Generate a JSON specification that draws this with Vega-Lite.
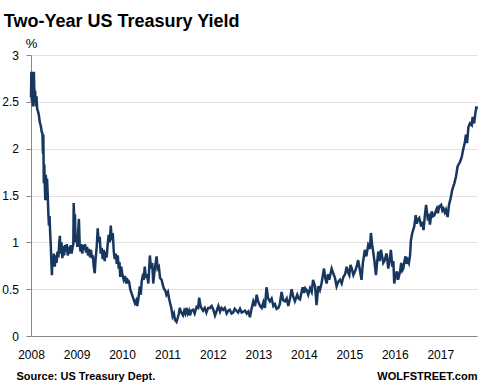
{
 "$schema": "https://vega.github.io/schema/vega-lite/v6.json",
 "width": 446,
 "height": 281,
 "autosize": {"type": "none"},
 "padding": {"left": 31, "top": 55, "right": 6, "bottom": 55},
 "background": "white",
 "title": {"text": "Two-Year US Treasury Yield", "anchor": "start", "frame": "bounds", "fontSize": 18, "fontWeight": "bold", "color": "#000000", "baseline": "alphabetic", "offset": -8, "dx": 2},
 "config": {"view": {"stroke": null}, "font": "Liberation Sans"},
 "data": {"values": [
  {"date":"2008-01-01","yield":2.55},{"date":"2008-01-04","yield":2.82},{"date":"2008-01-08","yield":2.5},{"date":"2008-01-12","yield":2.68},{"date":"2008-01-16","yield":2.45},{"date":"2008-01-20","yield":2.62},{"date":"2008-01-24","yield":2.82},{"date":"2008-01-29","yield":2.55},
  {"date":"2008-02-03","yield":2.62},{"date":"2008-02-08","yield":2.45},{"date":"2008-02-14","yield":2.56},{"date":"2008-02-20","yield":2.42},{"date":"2008-02-26","yield":2.4},
  {"date":"2008-03-04","yield":2.36},{"date":"2008-03-12","yield":2.28},{"date":"2008-03-20","yield":2.24},{"date":"2008-03-27","yield":2.18},
  {"date":"2008-04-02","yield":2.16},{"date":"2008-04-06","yield":1.95},{"date":"2008-04-09","yield":2.15},{"date":"2008-04-13","yield":1.63},{"date":"2008-04-17","yield":1.83},{"date":"2008-04-21","yield":1.6},{"date":"2008-04-25","yield":1.45},{"date":"2008-04-29","yield":1.72},
  {"date":"2008-05-04","yield":1.55},{"date":"2008-05-09","yield":1.68},{"date":"2008-05-14","yield":1.52},{"date":"2008-05-19","yield":1.32},{"date":"2008-05-24","yield":1.18},{"date":"2008-05-29","yield":1.28},
  {"date":"2008-06-03","yield":1.1},{"date":"2008-06-08","yield":0.97},{"date":"2008-06-13","yield":0.78},{"date":"2008-06-17","yield":0.65},{"date":"2008-06-22","yield":0.85},{"date":"2008-06-27","yield":0.76},
  {"date":"2008-07-03","yield":0.88},{"date":"2008-07-10","yield":0.74},{"date":"2008-07-17","yield":0.86},{"date":"2008-07-24","yield":0.78},
  {"date":"2008-08-01","yield":0.9},{"date":"2008-08-08","yield":0.84},{"date":"2008-08-15","yield":1.0},{"date":"2008-08-20","yield":1.07},{"date":"2008-08-26","yield":0.88},
  {"date":"2008-09-02","yield":1.0},{"date":"2008-09-09","yield":0.83},{"date":"2008-09-16","yield":0.96},{"date":"2008-09-23","yield":0.86},
  {"date":"2008-10-01","yield":0.97},{"date":"2008-10-08","yield":0.9},{"date":"2008-10-15","yield":0.98},{"date":"2008-10-22","yield":0.86},
  {"date":"2008-11-01","yield":0.95},{"date":"2008-11-08","yield":0.88},{"date":"2008-11-15","yield":0.97},{"date":"2008-11-22","yield":0.88},
  {"date":"2008-12-01","yield":0.95},{"date":"2008-12-06","yield":0.98},{"date":"2008-12-09","yield":1.42},{"date":"2008-12-14","yield":1.22},{"date":"2008-12-19","yield":1.3},{"date":"2008-12-24","yield":1.0},
  {"date":"2009-01-01","yield":1.08},{"date":"2009-01-07","yield":0.95},{"date":"2009-01-14","yield":1.12},{"date":"2009-01-20","yield":1.25},{"date":"2009-01-26","yield":0.98},
  {"date":"2009-02-02","yield":0.9},{"date":"2009-02-09","yield":0.98},{"date":"2009-02-16","yield":0.88},{"date":"2009-02-23","yield":0.97},
  {"date":"2009-03-02","yield":0.92},{"date":"2009-03-10","yield":0.98},{"date":"2009-03-18","yield":0.89},{"date":"2009-03-26","yield":0.95},
  {"date":"2009-04-03","yield":0.86},{"date":"2009-04-11","yield":0.93},{"date":"2009-04-19","yield":0.84},{"date":"2009-04-27","yield":0.92},
  {"date":"2009-05-05","yield":0.83},{"date":"2009-05-12","yield":0.86},{"date":"2009-05-19","yield":0.74},{"date":"2009-05-27","yield":0.67},
  {"date":"2009-06-03","yield":0.82},{"date":"2009-06-12","yield":0.95},{"date":"2009-06-20","yield":1.15},{"date":"2009-06-28","yield":1.0},
  {"date":"2009-07-06","yield":1.06},{"date":"2009-07-14","yield":0.88},{"date":"2009-07-22","yield":0.94},{"date":"2009-07-30","yield":0.82},
  {"date":"2009-08-07","yield":0.92},{"date":"2009-08-15","yield":0.8},{"date":"2009-08-23","yield":0.9},{"date":"2009-08-31","yield":0.84},
  {"date":"2009-09-08","yield":0.98},{"date":"2009-09-16","yield":1.08},{"date":"2009-09-24","yield":1.0},
  {"date":"2009-10-03","yield":1.18},{"date":"2009-10-11","yield":1.02},{"date":"2009-10-19","yield":1.1},{"date":"2009-10-27","yield":0.9},
  {"date":"2009-11-04","yield":0.82},{"date":"2009-11-12","yield":0.88},{"date":"2009-11-20","yield":0.77},{"date":"2009-11-28","yield":0.86},
  {"date":"2009-12-06","yield":0.72},{"date":"2009-12-12","yield":0.79},{"date":"2009-12-18","yield":0.63},{"date":"2009-12-26","yield":0.74},
  {"date":"2010-01-05","yield":0.65},{"date":"2010-01-15","yield":0.6},{"date":"2010-01-25","yield":0.64},
  {"date":"2010-02-05","yield":0.56},{"date":"2010-02-15","yield":0.6},{"date":"2010-02-27","yield":0.58},
  {"date":"2010-03-08","yield":0.5},{"date":"2010-03-18","yield":0.46},{"date":"2010-03-28","yield":0.42},
  {"date":"2010-04-07","yield":0.38},{"date":"2010-04-15","yield":0.35},{"date":"2010-04-25","yield":0.38},
  {"date":"2010-05-03","yield":0.32},{"date":"2010-05-13","yield":0.4},{"date":"2010-05-24","yield":0.53},
  {"date":"2010-06-01","yield":0.44},{"date":"2010-06-08","yield":0.58},{"date":"2010-06-15","yield":0.63},{"date":"2010-06-24","yield":0.6},
  {"date":"2010-07-03","yield":0.74},{"date":"2010-07-12","yield":0.62},{"date":"2010-07-20","yield":0.66},
  {"date":"2010-08-01","yield":0.56},{"date":"2010-08-13","yield":0.86},{"date":"2010-08-22","yield":0.72},
  {"date":"2010-09-01","yield":0.78},{"date":"2010-09-09","yield":0.56},{"date":"2010-09-20","yield":0.7},
  {"date":"2010-10-06","yield":0.85},{"date":"2010-10-14","yield":0.72},{"date":"2010-10-24","yield":0.74},
  {"date":"2010-11-03","yield":0.62},{"date":"2010-11-15","yield":0.6},{"date":"2010-11-26","yield":0.54},
  {"date":"2010-12-05","yield":0.5},{"date":"2010-12-14","yield":0.49},{"date":"2010-12-24","yield":0.44},
  {"date":"2011-01-05","yield":0.47},{"date":"2011-01-14","yield":0.4},{"date":"2011-01-21","yield":0.36},
  {"date":"2011-02-01","yield":0.3},{"date":"2011-02-12","yield":0.21},{"date":"2011-02-22","yield":0.24},
  {"date":"2011-03-03","yield":0.17},{"date":"2011-03-15","yield":0.15},{"date":"2011-03-26","yield":0.2},
  {"date":"2011-04-03","yield":0.24},{"date":"2011-04-10","yield":0.3},{"date":"2011-04-22","yield":0.25},
  {"date":"2011-05-06","yield":0.22},{"date":"2011-05-16","yield":0.27},{"date":"2011-05-25","yield":0.24},
  {"date":"2011-06-03","yield":0.3},{"date":"2011-06-14","yield":0.24},{"date":"2011-06-24","yield":0.27},
  {"date":"2011-07-01","yield":0.22},{"date":"2011-07-12","yield":0.27},{"date":"2011-07-26","yield":0.28},
  {"date":"2011-08-08","yield":0.24},{"date":"2011-08-23","yield":0.31},{"date":"2011-09-05","yield":0.3},{"date":"2011-09-13","yield":0.41},{"date":"2011-09-24","yield":0.32},
  {"date":"2011-10-05","yield":0.29},{"date":"2011-10-15","yield":0.27},{"date":"2011-10-28","yield":0.3},
  {"date":"2011-11-10","yield":0.25},{"date":"2011-11-24","yield":0.3},{"date":"2011-12-08","yield":0.3},{"date":"2011-12-22","yield":0.32},
  {"date":"2012-01-05","yield":0.28},{"date":"2012-01-18","yield":0.22},{"date":"2012-02-01","yield":0.27},{"date":"2012-02-14","yield":0.32},{"date":"2012-02-28","yield":0.26},
  {"date":"2012-03-10","yield":0.3},{"date":"2012-03-24","yield":0.28},{"date":"2012-04-06","yield":0.3},{"date":"2012-04-21","yield":0.24},
  {"date":"2012-05-04","yield":0.27},{"date":"2012-05-16","yield":0.28},{"date":"2012-05-30","yield":0.24},{"date":"2012-06-12","yield":0.25},{"date":"2012-06-25","yield":0.29},
  {"date":"2012-07-09","yield":0.27},{"date":"2012-07-22","yield":0.25},{"date":"2012-08-06","yield":0.29},{"date":"2012-08-19","yield":0.25},
  {"date":"2012-09-02","yield":0.26},{"date":"2012-09-16","yield":0.27},{"date":"2012-09-29","yield":0.24},{"date":"2012-10-12","yield":0.26},{"date":"2012-10-25","yield":0.2},
  {"date":"2012-11-05","yield":0.28},{"date":"2012-11-21","yield":0.37},{"date":"2012-12-05","yield":0.32},{"date":"2012-12-18","yield":0.44},
  {"date":"2013-01-01","yield":0.36},{"date":"2013-01-15","yield":0.32},{"date":"2013-01-28","yield":0.3},{"date":"2013-02-10","yield":0.36},{"date":"2013-02-22","yield":0.3},
  {"date":"2013-03-07","yield":0.52},{"date":"2013-03-20","yield":0.4},{"date":"2013-04-03","yield":0.37},{"date":"2013-04-17","yield":0.4},
  {"date":"2013-05-01","yield":0.32},{"date":"2013-05-14","yield":0.34},{"date":"2013-05-27","yield":0.29},{"date":"2013-06-10","yield":0.3},{"date":"2013-06-22","yield":0.34},
  {"date":"2013-07-06","yield":0.47},{"date":"2013-07-20","yield":0.38},{"date":"2013-08-03","yield":0.37},{"date":"2013-08-16","yield":0.4},{"date":"2013-08-29","yield":0.32},
  {"date":"2013-09-12","yield":0.4},{"date":"2013-09-25","yield":0.5},{"date":"2013-10-08","yield":0.42},{"date":"2013-10-21","yield":0.37},
  {"date":"2013-11-09","yield":0.44},{"date":"2013-11-20","yield":0.4},{"date":"2013-12-01","yield":0.39},{"date":"2013-12-12","yield":0.46},{"date":"2013-12-22","yield":0.52},
  {"date":"2014-01-03","yield":0.46},{"date":"2014-01-12","yield":0.51},{"date":"2014-01-24","yield":0.49},{"date":"2014-02-05","yield":0.44},{"date":"2014-02-20","yield":0.51},
  {"date":"2014-03-05","yield":0.47},{"date":"2014-03-16","yield":0.6},{"date":"2014-04-01","yield":0.53},{"date":"2014-04-13","yield":0.33},{"date":"2014-04-27","yield":0.53},
  {"date":"2014-05-10","yield":0.49},{"date":"2014-05-23","yield":0.56},{"date":"2014-06-12","yield":0.72},{"date":"2014-06-22","yield":0.62},
  {"date":"2014-07-03","yield":0.56},{"date":"2014-07-14","yield":0.66},{"date":"2014-07-24","yield":0.6},{"date":"2014-08-12","yield":0.72},{"date":"2014-08-25","yield":0.67},
  {"date":"2014-09-08","yield":0.62},{"date":"2014-09-21","yield":0.53},{"date":"2014-10-05","yield":0.58},{"date":"2014-10-18","yield":0.6},
  {"date":"2014-11-01","yield":0.56},{"date":"2014-11-14","yield":0.63},{"date":"2014-11-28","yield":0.66},{"date":"2014-12-11","yield":0.74},{"date":"2014-12-22","yield":0.68},
  {"date":"2015-01-01","yield":0.65},{"date":"2015-01-11","yield":0.76},{"date":"2015-01-21","yield":0.72},{"date":"2015-02-03","yield":0.65},{"date":"2015-02-16","yield":0.69},
  {"date":"2015-03-01","yield":0.74},{"date":"2015-03-13","yield":0.81},{"date":"2015-03-25","yield":0.72},{"date":"2015-04-09","yield":0.6},{"date":"2015-04-20","yield":0.78},
  {"date":"2015-05-06","yield":0.92},{"date":"2015-05-18","yield":0.85},{"date":"2015-06-02","yield":0.97},{"date":"2015-06-15","yield":0.93},{"date":"2015-06-24","yield":1.1},
  {"date":"2015-07-03","yield":0.98},{"date":"2015-07-12","yield":0.9},{"date":"2015-07-22","yield":0.8},{"date":"2015-08-03","yield":0.65},{"date":"2015-08-12","yield":0.78},{"date":"2015-08-22","yield":0.9},
  {"date":"2015-09-01","yield":0.8},{"date":"2015-09-12","yield":0.92},{"date":"2015-09-22","yield":0.85},{"date":"2015-10-01","yield":0.78},{"date":"2015-10-14","yield":0.81},{"date":"2015-10-22","yield":0.86},{"date":"2015-10-28","yield":0.88},
  {"date":"2015-11-10","yield":0.72},{"date":"2015-11-20","yield":0.8},{"date":"2015-12-01","yield":0.92},{"date":"2015-12-13","yield":0.74},{"date":"2015-12-21","yield":0.8},{"date":"2015-12-28","yield":0.56},
  {"date":"2016-01-08","yield":0.64},{"date":"2016-01-18","yield":0.69},{"date":"2016-01-28","yield":0.6},{"date":"2016-02-06","yield":0.65},{"date":"2016-02-14","yield":0.7},{"date":"2016-02-22","yield":0.78},
  {"date":"2016-03-02","yield":0.7},{"date":"2016-03-10","yield":0.72},{"date":"2016-03-19","yield":0.8},{"date":"2016-03-28","yield":0.85},{"date":"2016-04-06","yield":0.77},{"date":"2016-04-15","yield":0.81},{"date":"2016-04-24","yield":0.78},
  {"date":"2016-05-03","yield":0.86},{"date":"2016-05-10","yield":1.02},{"date":"2016-05-21","yield":1.1},{"date":"2016-06-06","yield":1.17},{"date":"2016-06-18","yield":1.29},{"date":"2016-06-26","yield":1.2},
  {"date":"2016-07-04","yield":1.24},{"date":"2016-07-16","yield":1.26},{"date":"2016-08-01","yield":1.17},{"date":"2016-08-10","yield":1.22},{"date":"2016-08-19","yield":1.13},
  {"date":"2016-09-01","yield":1.31},{"date":"2016-09-09","yield":1.4},{"date":"2016-09-22","yield":1.26},{"date":"2016-10-01","yield":1.28},{"date":"2016-10-10","yield":1.19},{"date":"2016-10-24","yield":1.33},
  {"date":"2016-11-05","yield":1.28},{"date":"2016-11-15","yield":1.29},{"date":"2016-11-25","yield":1.33},{"date":"2016-12-04","yield":1.36},{"date":"2016-12-13","yield":1.31},{"date":"2016-12-22","yield":1.38},
  {"date":"2017-01-08","yield":1.4},{"date":"2017-01-18","yield":1.34},{"date":"2017-01-27","yield":1.36},{"date":"2017-02-06","yield":1.32},{"date":"2017-02-15","yield":1.35},{"date":"2017-02-22","yield":1.31},
  {"date":"2017-03-01","yield":1.27},{"date":"2017-03-12","yield":1.4},{"date":"2017-03-25","yield":1.47},{"date":"2017-04-07","yield":1.56},{"date":"2017-04-24","yield":1.63},
  {"date":"2017-05-07","yield":1.7},{"date":"2017-05-20","yield":1.81},{"date":"2017-06-09","yield":1.86},{"date":"2017-06-22","yield":1.91},
  {"date":"2017-07-04","yield":1.99},{"date":"2017-07-18","yield":2.07},{"date":"2017-07-26","yield":2.15},{"date":"2017-08-04","yield":2.06},{"date":"2017-08-15","yield":2.23},{"date":"2017-08-28","yield":2.27},
  {"date":"2017-09-11","yield":2.25},{"date":"2017-09-18","yield":2.34},{"date":"2017-09-30","yield":2.27},{"date":"2017-10-10","yield":2.38},{"date":"2017-10-18","yield":2.45},{"date":"2017-10-21","yield":2.42}
 ]},
 "layer": [
  {
   "mark": {"type": "line", "color": "#17375e", "strokeWidth": 2.5},
   "encoding": {
    "x": {"field": "date", "type": "temporal",
          "scale": {"domain": [{"year": 2008, "month": 1, "date": 1}, {"year": 2017, "month": 10, "date": 23}]},
          "axis": {"values": [{"year": 2008}, {"year": 2009}, {"year": 2010}, {"year": 2011}, {"year": 2012}, {"year": 2013}, {"year": 2014}, {"year": 2015}, {"year": 2016}, {"year": 2017}],
                   "format": "%Y", "ticks": false, "grid": false, "domainColor": "#868686", "labelPadding": 13, "labelFontSize": 12, "labelColor": "#000000", "labelFlush": false, "labelOverlap": false,
                   "title": "Source: US Treasury Dept.", "titleX": -15, "titleY": 43.5, "titleAlign": "left", "titleAnchor": "start", "titleBaseline": "alphabetic", "titleFontSize": 11, "titleFontWeight": "bold", "titleColor": "#000000"}},
    "y": {"field": "yield", "type": "quantitative",
          "scale": {"domain": [0, 3], "nice": false},
          "axis": {"values": [0, 0.5, 1, 1.5, 2, 2.5, 3], "format": "~g", "grid": true, "gridColor": "#e0e0e6", "tickSize": 5, "tickColor": "#868686", "domainColor": "#868686", "labelPadding": 7.5, "labelFontSize": 12, "labelColor": "#000000",
                   "title": "%", "titleAngle": 0, "titleX": 0, "titleY": -8, "titleAlign": "center", "titleBaseline": "alphabetic", "titleFontSize": 13, "titleFontWeight": "normal", "titleColor": "#000000"}}
   }
  },
  {
   "mark": {"type": "line", "strokeOpacity": 0},
   "encoding": {
    "x": {"field": "date", "type": "temporal"},
    "y": {"field": "yield", "type": "quantitative",
          "axis": {"orient": "right", "labels": false, "ticks": false, "domain": false, "grid": false,
                   "title": "WOLFSTREET.com", "titleAngle": 0, "titleX": 0, "titleY": 324.5, "titleAlign": "right", "titleBaseline": "alphabetic", "titleFontSize": 11, "titleFontWeight": "bold", "titleColor": "#000000"}}
   }
  }
 ],
 "resolve": {"axis": {"y": "independent"}}
}
